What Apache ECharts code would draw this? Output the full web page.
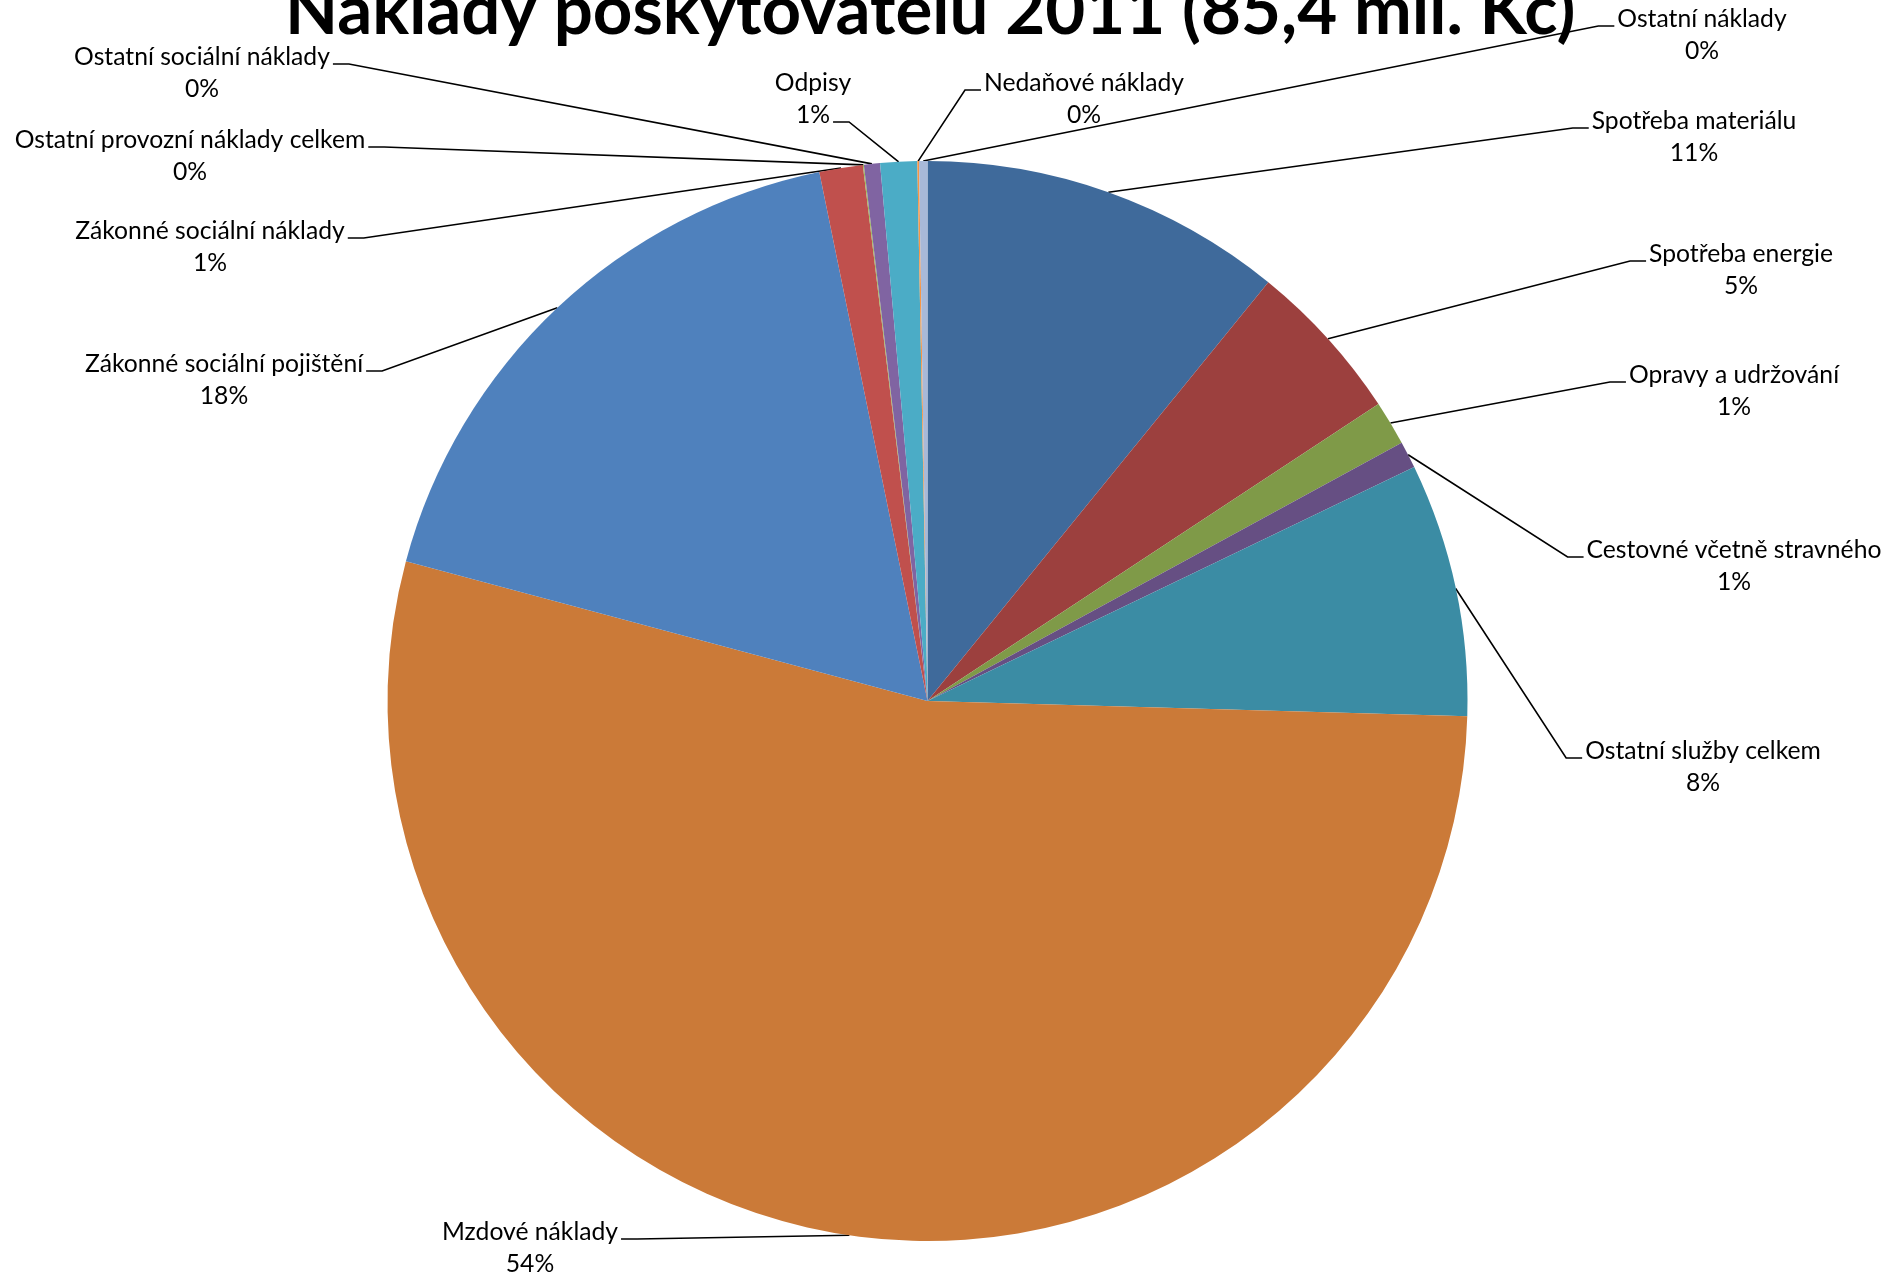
<!DOCTYPE html>
<html>
<head>
<meta charset="utf-8">
<script src="https://cdn.jsdelivr.net/npm/echarts@6/dist/echarts.min.js"></script>
</head>
<body style="margin:0;background:#fff">
<div id="main" style="width:1901px;height:1275px"></div>
<script>
// naklady v tis. Kc, odhad z obrazku (celkem 85,4 mil.)
var names = ['Spotřeba materiálu', 'Spotřeba energie', 'Opravy a udržování', 'Cestovné včetně stravného',
    'Ostatní služby celkem', 'Mzdové náklady', 'Zákonné sociální pojištění', 'Zákonné sociální náklady',
    'Ostatní provozní náklady celkem', 'Ostatní sociální náklady', 'Odpisy', 'Nedaňové náklady', 'Ostatní náklady'];
var values = [9283, 4150, 1136, 692, 6473, 45877, 15047, 1110, 26, 410, 939, 43, 214];
var colors = ['#3f6a9b', '#9c403e', '#7f9a48', '#664f83', '#3b8ca4', '#cb7a38', '#4f81bd',
    '#c0504d', '#9bbb59', '#8064a2', '#4bacc6', '#f79646', '#a8b9d8'];

// kde lezi popisky (stred textu), a na kterem radku se chyti vodici cara
var labelAt = [[1694, 137], [1741, 270], [1734, 391], [1734, 566], [1703, 767], [530, 1248],
    [224, 380], [210, 247], [190, 156], [202, 73], [813, 99], [1084, 99], [1702, 35]];
var leaderRow = [0, 0, 0, 0, 0, 0, 0, 0, 0, 0, 1, 0, 0];

var pieCenter = [927.5, 701];
var pieRadius = 540;
var fontSize = 24.7, lineH = 32;
var fontName = 'Lato';

var ctx = document.createElement('canvas').getContext('2d');
ctx.font = fontSize + 'px ' + fontName;
function textW(s) { return ctx.measureText(s).width; }

var total = values.reduce(function (a, b) { return a + b; }, 0);
function pct(i) { return Math.round(values[i] / total * 100) + '%'; }

var myChart = echarts.init(document.getElementById('main'));
var option = {
    animation: false,
    title: {
        text: 'Náklady poskytovatelů 2011 (85,4 mil. Kč)',
        left: 280,
        top: -28,
        textStyle: { fontFamily: fontName, fontWeight: 'bold', fontSize: 69, color: '#000' }
    },
    series: [{
        type: 'pie',
        center: pieCenter,
        radius: pieRadius,
        startAngle: 90,
        clockwise: true,
        avoidLabelOverlap: false,
        data: names.map(function (n, i) {
            return { name: n, value: values[i], itemStyle: { color: colors[i] } };
        }),
        label: {
            show: true,
            position: 'outside',
            formatter: function (p) { return p.name + '\n' + pct(p.dataIndex); },
            fontFamily: fontName,
            fontSize: fontSize,
            lineHeight: lineH,
            color: '#000',
            align: 'center'
        },
        labelLine: { show: true, lineStyle: { color: '#000', width: 1.6 } },
        labelLayout: function (p) {
            var i = p.dataIndex, at = labelAt[i], row = leaderRow[i];
            var start = p.labelLinePoints[0];
            var w = textW(row ? pct(i) : names[i]);
            var y = at[1] - lineH / 2 + row * lineH + 7;
            var endX, elbowX;
            if (at[0] > start[0]) {
                endX = at[0] - w / 2 - 3; elbowX = endX - 16;
            } else {
                endX = at[0] + w / 2 + 3; elbowX = endX + 16;
            }
            return {
                x: at[0], y: at[1], align: 'center', verticalAlign: 'middle',
                labelLinePoints: [start, [elbowX, y], [endX, y]]
            };
        }
    }]
};
myChart.setOption(option);
</script>
</body>
</html>
